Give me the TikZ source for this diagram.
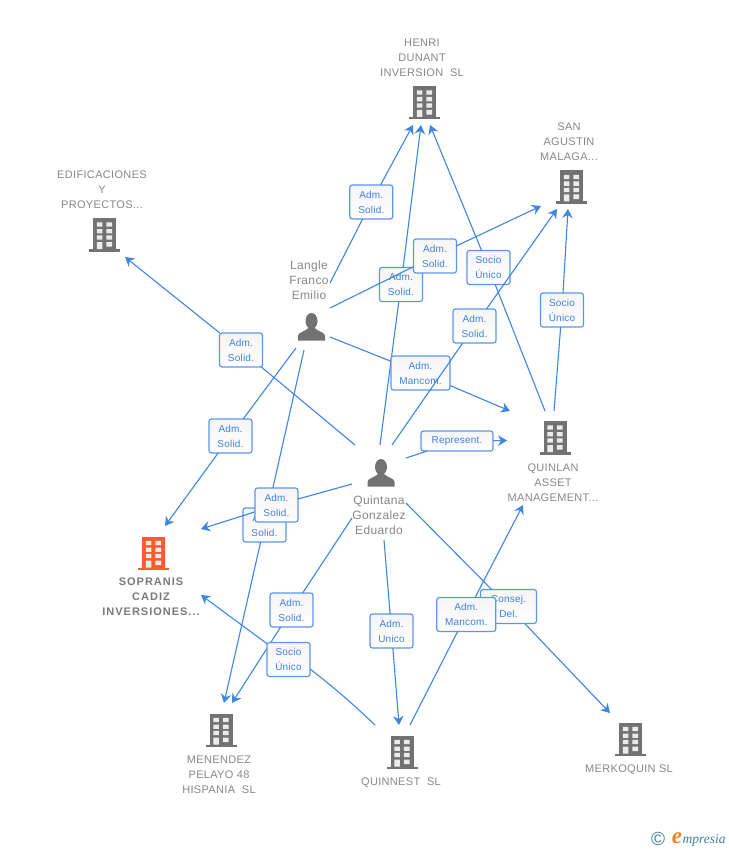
\documentclass[tikz,border=0pt]{standalone}
\usepackage{fontspec}
\usetikzlibrary{arrows.meta}
\setmainfont{Liberation Sans}
\newfontfamily\tagfont[LetterSpace=2]{Liberation Sans}
\newfontfamily\namefont[LetterSpace=3]{Liberation Sans}
\newfontfamily\hotfont[LetterSpace=9]{Liberation Sans}
\newfontfamily\logofont{Liberation Serif}
\definecolor{edgeblue}{HTML}{3F86E0}
\definecolor{tagblue}{HTML}{5C96E6}
\definecolor{tagtext}{HTML}{3F80DC}
\definecolor{iconGray}{HTML}{727272}
\definecolor{nameGray}{HTML}{888888}
\definecolor{hotOrange}{HTML}{FF5A2B}
\definecolor{logoTeal}{HTML}{3F7F9A}
\definecolor{logoOrange}{HTML}{F08020}
\tikzset{
  linkline/.style={draw=edgeblue,line width=1.1pt,-{Stealth[length=9pt,width=10.5pt,inset=3pt]}},
  entity/.style={rectangle,draw=none,inner sep=0pt,outer sep=0pt},
  tagbox/.style={rectangle,draw=tagblue,line width=1.2pt,rounded corners=2.5pt,top color=black!4,bottom color=white,
    inner sep=0pt,outer sep=0pt,minimum width=43pt,minimum height=34pt,text=tagtext,align=center,
    font=\tagfont\fontsize{10}{15}\selectfont},
  entname/.style={text=nameGray,align=center,inner sep=0pt,font=\namefont\fontsize{11}{15}\selectfont},
  personname/.style={text=nameGray,align=center,inner sep=0pt,font=\namefont\fontsize{12}{15}\selectfont},
  hotname/.style={text=black!52,align=center,inner sep=0pt,font=\hotfont\bfseries\fontsize{11}{15}\selectfont},
  pics/bldg/.style={code={
    \fill[#1] (-11.5,-16.5) rectangle (11.5,14.5);
    \fill[#1] (-15.5,14.5) rectangle (15.5,17);
    \fill[white!92!black]
      (-7.7,-12.2) rectangle (-2.2,-7.8) (1.9,-12.2) rectangle (7.6,-7.8)
      (-7.7,-5.5) rectangle (-2.2,-1.2) (1.9,-5.5) rectangle (7.6,-1.2)
      (-7.7,0.8) rectangle (-2.2,5.2) (1.9,0.8) rectangle (7.6,5.2)
      (-7.7,7.5) rectangle (-2.2,14.5) (1.9,7.5) rectangle (7.6,12.2);
  }},
  pics/person/.style={code={
    \fill[iconGray] (0,-6) ellipse (6 and 8);
    \fill[iconGray] (-13.5,13.7) -- (-13.5,9) .. controls (-13.5,5) and (-7,5) .. (-3,1)
      -- (3,1) .. controls (7,5) and (13.5,5) .. (13.5,9) -- (13.5,13.7) -- cycle;
  }}
}
\begin{document}
\begin{tikzpicture}[x=1pt,y=-1pt]
\useasboundingbox (0,0) rectangle (728,850);
\fill[white] (0,0) rectangle (728,850);

% connection areas of the entities (icon plus its text)
\node[entity,minimum width=85pt,minimum height=89pt] (henri) at (422.5,80.5) {};
\node[entity,minimum width=57pt,minimum height=89pt] (sanag) at (569.5,164.5) {};
\node[entity,minimum width=90pt,minimum height=89pt] (edif) at (102,212.5) {};
\node[entity,minimum width=34pt,minimum height=92pt] (langle) at (313,304) {};
\node[entity,minimum width=54pt,minimum height=95pt] (quintana) at (379,492.5) {};
\node[entity,minimum width=93pt,minimum height=94pt] (quinlan) at (553.5,458) {};
\node[entity,minimum width=100pt,minimum height=94pt] (sopranis) at (151,573) {};
\node[entity,minimum width=77pt,minimum height=94pt] (menendez) at (219.5,750) {};
\node[entity,minimum width=81pt,minimum height=65pt] (quinnest) at (400.5,757.5) {};
\node[entity,minimum width=88pt,minimum height=64pt] (merko) at (629,745) {};

% icons
\pic at (424.5,102.5) {bldg=iconGray};
\pic at (571.5,187) {bldg=iconGray};
\pic at (104.5,234.5) {bldg=iconGray};
\pic at (555,437.5) {bldg=iconGray};
\pic at (153.5,553) {bldg=hotOrange};
\pic at (221,730) {bldg=iconGray};
\pic at (402,752) {bldg=iconGray};
\pic at (630.5,739) {bldg=iconGray};
\pic at (311.5,327) {person};
\pic at (381,473) {person};

% names
\node[entname] (t1) at (422,58) {HENRI\\DUNANT\\INVERSION\ \ SL};
\node[entname] (t2) at (569,142) {SAN\\AGUSTIN\\MALAGA...};
\node[entname] (t3) at (102,190) {EDIFICACIONES\\Y\\PROYECTOS...};
\node[personname] (t4) at (309,280) {Langle\\Franco\\Emilio};
\node[personname] (t5) at (379,515.5) {Quintana\\Gonzalez\\Eduardo};
\node[entname] (t6) at (553,483) {QUINLAN\\ASSET\\MANAGEMENT...};
\node[hotname] (t7) at (151,596.5) {SOPRANIS\\CADIZ\\INVERSIONES...};
\node[entname] (t8) at (219,775) {MENENDEZ\\PELAYO 48\\HISPANIA\ \ SL};
\node[entname] (t9) at (401,782.5) {QUINNEST\ \ SL};
\node[entname] (t10) at (629,769.5) {MERKOQUIN SL};

% connectors with their tags, in painting order
\node[tagbox] (a1) at (371.3,202) {Adm.\\Solid.};
\draw[linkline] ([yshift=21pt]langle.east) -- (a1) -- ([xshift=-9.5pt]henri.south);

\node[tagbox] (a2) at (401,284.5) {Adm.\\Solid.};
\draw[linkline] ([xshift=1pt]quintana.north) -- (a2) -- ([xshift=-1.5pt]henri.south);

\node[tagbox] (a3) at (435,256) {Adm.\\Solid.};
\draw[linkline] ([yshift=-4pt]langle.east) -- (a3) -- ([yshift=-41.5pt]sanag.west);

\node[tagbox] (a4) at (488.5,267.5) {Socio\\Único};
\draw[linkline] ([xshift=-8.5pt]quinlan.north) -- (a4) -- ([xshift=7.5pt]henri.south);

\node[tagbox,minimum width=59pt] (a5) at (420.5,373) {Adm.\\Mancom.};
\draw[linkline] ([yshift=-33pt]langle.east) -- (a5) -- ([xshift=-43.5pt]quinlan.north);

\node[tagbox] (a6) at (474.5,326) {Adm.\\Solid.};
\draw[linkline] ([xshift=13pt]quintana.north) -- (a6) -- ([xshift=-12.5pt]sanag.south);

\node[tagbox] (a7) at (562,310) {Socio\\Único};
\draw[linkline] ([xshift=0.5pt]quinlan.north) -- (a7) -- ([xshift=-1.5pt]sanag.south);

\node[tagbox] (a8) at (241,350) {Adm.\\Solid.};
\draw[linkline] ([xshift=-24pt]quintana.north) -- (a8) -- ([xshift=23pt]edif.south);

\node[tagbox] (a9) at (230.5,436) {Adm.\\Solid.};
\draw[linkline] ([yshift=-44pt]langle.west) -- (a9) -- ([xshift=14pt]sopranis.north);

\node[tagbox,minimum width=72pt,minimum height=20pt] (a10) at (457,441) {Represent.};
\draw[linkline] ([yshift=34.5pt]quintana.east) -- (a10) -- ([yshift=17.5pt]quinlan.west);

\node[tagbox] (a11) at (264.5,525) {Adm.\\Solid.};
\draw[linkline] ([xshift=-9pt]langle.south) -- (a11) -- ([xshift=4.5pt]menendez.north);

\node[tagbox] (a12) at (276.5,505) {Adm.\\Solid.};
\draw[linkline] ([yshift=8.5pt]quintana.west) -- (a12) -- ([yshift=44pt]sopranis.east);

\node[tagbox] (a13) at (291.5,610) {Adm.\\Solid.};
\draw[linkline] ([yshift=-25.5pt]quintana.west) -- (a13) -- ([xshift=12.5pt]menendez.north);

\node[tagbox] (a14) at (288.5,659.5) {Socio\\Único};
\coordinate (bendA) at (352,703);
\coordinate (bendB) at (331,685);
\draw[linkline] ([xshift=-25.5pt]quinnest.north) .. controls (bendA) and (bendB) .. ([yshift=-9.5pt]a14.east)
  (a14) -- ([yshift=-22pt]sopranis.east);

\node[tagbox] (a15) at (391.5,631) {Adm.\\Unico};
\draw[linkline] ([xshift=5pt]quintana.south) -- (a15) -- ([xshift=-1.5pt]quinnest.north);

\node[tagbox,minimum width=56pt] (a16) at (508.5,606.5) {Consej.\\Del.};
\draw[linkline] ([yshift=-10.5pt]quintana.east) -- (a16) -- ([xshift=-19pt]merko.north);

\node[tagbox,minimum width=59pt] (a17) at (466.3,614.5) {Adm.\\Mancom.};
\draw[linkline] ([xshift=9.5pt]quinnest.north) -- (a17) -- ([xshift=-30.5pt]quinlan.south);

% logo
\node[inner sep=0pt,text=logoTeal] (logoc) at (658,839) {\fontsize{19}{19}\selectfont ©};
\node[inner sep=0pt,text=logoOrange] (logoe) at (677,838) {\logofont\itshape\bfseries\fontsize{23}{23}\selectfont e};
\node[inner sep=0pt,text=logoTeal,anchor=west] (logot) at (682.5,840) {\logofont\itshape\fontsize{13.5}{13.5}\selectfont mpresia};
\end{tikzpicture}
\end{document}
